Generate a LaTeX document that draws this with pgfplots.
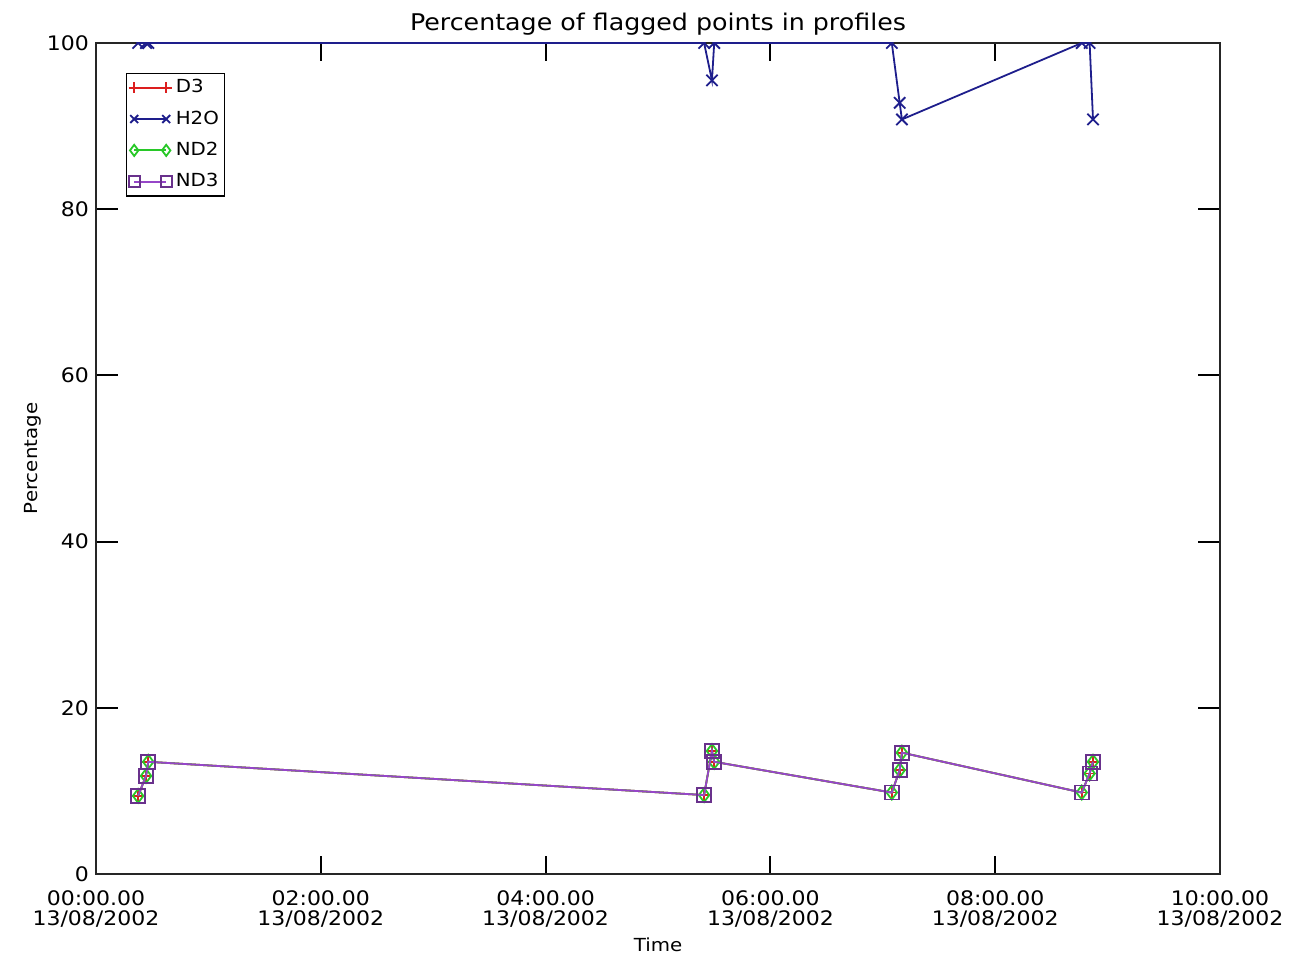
\documentclass[border=0pt]{standalone}
\usepackage{fontspec}
\setmainfont{DejaVu Sans}[FakeStretch=1.1]
\usepackage{pgfplots}
\usepackage{pgfplotstable}
\pgfplotsset{compat=1.18}

\definecolor{oclr}{RGB}{220,30,30}
\definecolor{hclr}{RGB}{30,30,140}
\definecolor{nclr}{RGB}{40,200,40}
\definecolor{mclr}{RGB}{150,70,200}

% time in hours after 00:00 on 13/08/2002, percentage flagged
\pgfplotstableread{
t pct
0.375 9.4
0.445 11.8
0.465 13.5
5.41 9.5
5.48 14.8
5.50 13.5
7.08 9.8
7.15 12.5
7.17 14.6
8.77 9.8
8.84 12.1
8.87 13.5
}\othree
\pgfplotstableread{
t pct
0.375 100
0.445 100
0.465 100
5.41 100
5.48 95.5
5.50 100
7.08 100
7.15 92.8
7.17 90.8
8.77 100
8.84 100
8.87 90.8
}\water
\pgfplotstableread{
t pct
0.375 9.4
0.445 11.8
0.465 13.5
5.41 9.5
5.48 14.8
5.50 13.5
7.08 9.8
7.15 12.5
7.17 14.6
8.77 9.8
8.84 12.1
8.87 13.5
}\ndtwo
\pgfplotstableread{
t pct
0.375 9.4
0.445 11.8
0.465 13.5
5.41 9.5
5.48 14.8
5.50 13.5
7.08 9.8
7.15 12.5
7.17 14.6
8.77 9.8
8.84 12.1
8.87 13.5
}\ndthree

\begin{document}
\begin{tikzpicture}
\begin{axis}[
    name=ax,
    scale only axis,
    width=562pt, height=415.5pt,
    xmin=0, xmax=10,
    ymin=0, ymax=100,
    xtick={0,2,4,6,8,10},
    xticklabels={{00:00.00\\13/08/2002},{02:00.00\\13/08/2002},{04:00.00\\13/08/2002},
                 {06:00.00\\13/08/2002},{08:00.00\\13/08/2002},{10:00.00\\13/08/2002}},
    ytick={0,20,40,60,80,100},
    minor tick num=0,
    tick align=inside,
    xtick pos=both, ytick pos=both,
    xtick style={/pgfplots/major tick length=9pt, line width=1pt, black},
    ytick style={/pgfplots/major tick length=11pt, line width=1pt, black},
    axis line style={line width=1pt, black!85},
    tick label style={font=\fontsize{10}{10}\selectfont},
    xticklabel style={align=center, yshift=-5pt},
    /pgf/number format/assume math mode=true,
    title={Percentage of flagged points in profiles},
    title style={font=\fontsize{11.5}{12}\selectfont, at={(axis description cs:0.5,1)}, anchor=base},
    xlabel={Time},
    xlabel style={font=\fontsize{9}{9}\selectfont, at={(axis description cs:0.5,-0.0927)}, anchor=base},
    ylabel={Percentage},
    ylabel style={font=\fontsize{9}{9}\selectfont, at={(axis description cs:-0.0565,0.5)}, anchor=center},
    clip marker paths=true,
    legend style={at={(axis description cs:0.0267,0.964)}, anchor=north west,
        draw=black, line width=0.6pt, font=\fontsize{9}{9}\selectfont,
        inner sep=1pt, row sep=3.5pt, cells={anchor=west}},
    legend image code/.code={
        \draw[#1, mark repeat=1, mark phase=1, mark size=2.8pt]
            plot coordinates {(0pt,0pt) (16pt,0pt)};
    },
    every axis plot/.append style={line width=0.9pt},
]
\addplot[color=oclr, mark=+, mark size=3.5pt] table[x=t, y=pct] {\othree};
\addlegendentry{D3}
\addplot[color=hclr, mark=x, mark size=4pt] table[x=t, y=pct] {\water};
\addlegendentry{H2O}
\addplot[color=nclr, mark=diamond, mark size=3.5pt] table[x=t, y=pct] {\ndtwo};
\addlegendentry{ND2}
\addplot[color=mclr, mark=square, mark size=3.5pt, mark options={draw=mclr!70!black}] table[x=t, y=pct] {\ndthree};
\addlegendentry{ND3}
\end{axis}
\pgfresetboundingbox
\path[use as bounding box] ([shift={(-48pt,-43.5pt)}]ax.south west) rectangle ([shift={(36.5pt,21.5pt)}]ax.north east);
\end{tikzpicture}
\end{document}
